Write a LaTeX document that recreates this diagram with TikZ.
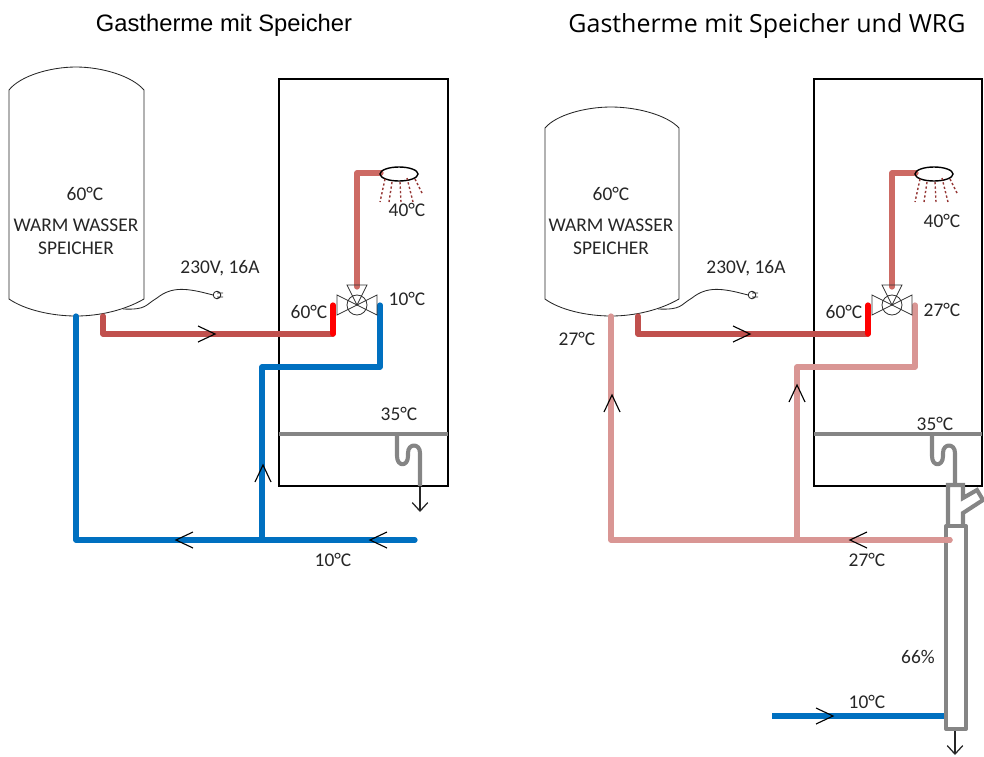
\documentclass[tikz,border=0pt]{standalone}
\usepackage{fontspec}
\setmainfont{Carlito}
\newfontfamily\titlefonta{Liberation Sans}
\newfontfamily\titlefontb{Open Sans}
\usetikzlibrary{arrows.meta}
\definecolor{pipeblue}{HTML}{0070C0}
\definecolor{pipedark}{HTML}{C0504D}
\definecolor{pipeshower}{HTML}{CD6A64}
\definecolor{pipepink}{HTML}{D99694}
\definecolor{pipegrey}{HTML}{858585}
\definecolor{dropred}{HTML}{953735}
\definecolor{labeltext}{HTML}{262626}
\tikzset{
	pipe/.style={line width=3.7pt, line join=round, line cap=round},
	greypipe/.style={line width=2.9pt, line join=round, color=pipegrey},
	thinline/.style={line width=0.6pt, color=black!85},
	label/.style={text=labeltext, font=\fontsize{13.8}{16}\selectfont, inner sep=0pt},
}
\def\chevron(#1)(#2){\draw[shift={(#1)}, rotate=#2, line width=0.8pt] (-17,-8) -- (0,0) -- (-17,8);}
\def\outlet(#1){\draw[line width=0.9pt, color=black!85, -{Straight Barb[length=6pt,width=11pt]}] (#1) -- ++(0,26);}
\def\showerhead(#1){
	\draw[line width=1pt, shift={(#1)}] (0,0) ellipse (19 and 7);
	\draw[line width=1pt, color=dropred, dash pattern=on 1.6pt off 1.6pt, shift={(#1)}]
		(-14,5) -- (-19,28) (-7,8) -- (-10,28) (1,8) -- (2,28) (8,4) -- (14,28) (16,5) -- (24,21);
}
\def\mixvalve(#1){
	\draw[line width=0.6pt, color=black!80, shift={(#1)}]
		(0,0) circle (10)
		(0,0) -- (-20,-10) -- (-20,10) -- cycle
		(0,0) -- (20,-10) -- (20,10) -- cycle
		(0,0) -- (-10,-20) -- (10,-20) -- cycle;
}
\def\powerplug(#1){
	\draw[thinline, shift={(#1)}]
		(-94,14) .. controls (-70,15) and (-72,10) .. (-60,3)
		.. controls (-45,-9) and (-30,-7) .. (-4,0)
		(0,0) circle (3.8) (0,-2) -- (6,-2) (0,2) -- (6,2);
}

\begin{document}
\begin{tikzpicture}[x=0.25mm, y=-0.25mm]
	%%%%% FRAME %%%%%
	\useasboundingbox (0,0) rectangle (984,756);

	\node[font=\titlefonta\fontsize{16.9}{19}\selectfont, text=black, inner sep=0pt] (titleleft) at (224,25.5) {Gastherme mit Speicher};
	\node[font=\titlefontb\fontsize{17.75}{20}\selectfont, text=black, inner sep=0pt] (titleright) at (767,26.5) {Gastherme mit Speicher und WRG};

	%%%%% LEFT %%%%%
	\draw[line width=1pt] (279,79) rectangle (448,486);
	\draw[thinline] (9,90) .. controls (20,76) and (50,67) .. (76,67) .. controls (102,67) and (132,76) .. (144,90)
		-- (144,299) .. controls (125,310) and (100,316) .. (76,316) .. controls (52,316) and (25,310) .. (9,299) -- cycle;

	\draw[pipe, color=pipeblue] (76,316) -- (76,540) -- (415,540);
	\draw[pipe, color=pipeblue] (262,540) -- (262,367) -- (380,367) -- (380,305);
	\draw[pipe, color=pipedark] (103,316) -- (103,334) -- (333,334);
	\draw[pipe, color=red] (333,334) -- (333,305);
	\draw[pipe, color=pipeshower] (357,287) -- (357,173) -- (381,173);

	\powerplug(217,295)
	\showerhead(399,174)
	\mixvalve(357,305)

	\draw[greypipe] (279,434) -- (448,434);
	\draw[greypipe] (397,434) -- (397,456) .. controls (397,467) and (408,467) .. (408,456)
		-- (408,453) .. controls (408,443) and (420,443) .. (420,453) -- (420,486);
	\outlet(420,486)

	\chevron(215,334)(0)
	\chevron(176,540)(180)
	\chevron(370,540)(180)
	\chevron(263,465)(90)

	\node[label] (tankleft) at (85,194) {60°C};
	\node[label] (wwleft) at (76,225) {WARM WASSER};
	\node[label] (spleft) at (76,248) {SPEICHER};
	\node[label] (powerleft) at (220,268) {230V, 16A};
	\node[label] (showerleft) at (407,210) {40°C};
	\node[label] (coldleft) at (407,299) {10°C};
	\node[label] (hotleft) at (309,312) {60°C};
	\node[label] (drainleft) at (399,414) {35°C};
	\node[label] (inletleft) at (333,560) {10°C};

	%%%%% RIGHT %%%%%
	\draw[line width=1pt] (814,79) rectangle (982,486);
	\draw[thinline] (545,128) .. controls (556,115) and (585,107) .. (611,107) .. controls (637,107) and (667,115) .. (679,128)
		-- (679,299) .. controls (660,310) and (635,316) .. (611,316) .. controls (587,316) and (560,310) .. (545,299) -- cycle;

	\draw[pipe, color=pipepink] (611,316) -- (611,540) -- (950,540);
	\draw[pipe, color=pipepink] (797,540) -- (797,367) -- (915,367) -- (915,305);
	\draw[pipe, color=pipedark] (638,316) -- (638,334) -- (868,334);
	\draw[pipe, color=red] (868,334) -- (868,305);
	\draw[pipe, color=pipeshower] (892,287) -- (892,173) -- (916,173);

	\powerplug(752,295)
	\showerhead(934,174)
	\mixvalve(892,305)

	\draw[greypipe] (814,434) -- (982,434);
	\draw[greypipe] (932,434) -- (932,456) .. controls (932,467) and (943,467) .. (943,456)
		-- (943,453) .. controls (943,443) and (955,443) .. (955,453) -- (955,485);

	% heat recovery
	\draw[greypipe, line join=miter] (948,526) -- (948,485) -- (963,485) -- (963,498) -- (977,490) -- (983,500) -- (963,513) -- (963,526);
	\draw[greypipe] (946,526) rectangle (966,729);
	\draw[pipe, color=pipepink] (950,540) -- (945,540);
	\draw[pipe, color=pipeblue, line cap=butt] (772,716) -- (944,716);
	\draw[line width=0.9pt, color=black!85, -{Straight Barb[length=6pt,width=11pt]}] (955,731) -- (955,755);

	\chevron(750,334)(0)
	\chevron(612,395)(90)
	\chevron(797,385)(90)
	\chevron(850,540)(180)
	\chevron(833,716)(0)

	\node[label] (tankright) at (611,194) {60°C};
	\node[label] (wwright) at (611,225) {WARM WASSER};
	\node[label] (spright) at (611,248) {SPEICHER};
	\node[label] (powerright) at (746,268) {230V, 16A};
	\node[label] (showerright) at (942,221) {40°C};
	\node[label] (warmright) at (942,310) {27°C};
	\node[label] (hotright) at (844,312) {60°C};
	\node[label] (returnright) at (577,339) {27°C};
	\node[label] (drainright) at (935,424) {35°C};
	\node[label] (preright) at (867,560) {27°C};
	\node[label] (effright) at (918,657) {66\%};
	\node[label] (inletright) at (867,702) {10°C};
\end{tikzpicture}
\end{document}
